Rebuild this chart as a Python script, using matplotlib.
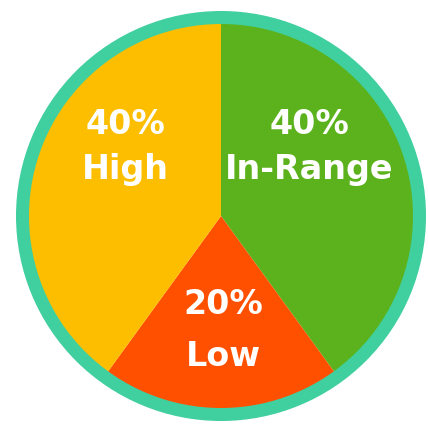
import matplotlib
matplotlib.use('Agg')
import matplotlib.pyplot as plt
from matplotlib.patches import Circle

# ---- data ----
categories = ['In-Range', 'Low', 'High']
values = [40, 20, 40]
pct_labels = ['40%', '20%', '40%']
colors = ['#5cb21c', '#ff5000', '#fdbe00']
ring_color = '#40cf9f'

# ---- layout (pixel units, y measured from top) ----
W, H = 428, 426
cx, cy = 221, 216
r_out = 205
ring_w = 13
label_pos = {  # (x, y of percent line, y of name line)
    'In-Range': (309, 124, 170),
    'Low': (223, 305, 356),
    'High': (125, 124, 170),
}

fig = plt.figure(figsize=(W / 100, H / 100), dpi=100)
fig.patch.set_facecolor('white')
ax = fig.add_axes([0, 0, 1, 1])

ax.pie(values, colors=colors, startangle=90, counterclock=False,
       center=(cx, H - cy), radius=r_out - ring_w / 2,
       wedgeprops=dict(linewidth=0, antialiased=True))

ring_r = r_out - ring_w / 2
lw_pt = ring_w * 72 / 100
ax.add_patch(Circle((cx, H - cy), ring_r, fill=False, edgecolor=ring_color,
                    linewidth=lw_pt, zorder=5))

ax.set_xlim(0, W)
ax.set_ylim(0, H)
ax.set_aspect('equal')
ax.axis('off')

fs = 24
for cat, pct in zip(categories, pct_labels):
    x, y1, y2 = label_pos[cat]
    ax.text(x, H - y1, pct, color='white', fontsize=fs, fontweight='bold',
            family='DejaVu Sans', ha='center', va='center', zorder=6)
    ax.text(x, H - y2, cat, color='white', fontsize=fs, fontweight='bold',
            family='DejaVu Sans', ha='center', va='center', zorder=6)

fig.savefig('out.png', dpi=100, facecolor='white')
